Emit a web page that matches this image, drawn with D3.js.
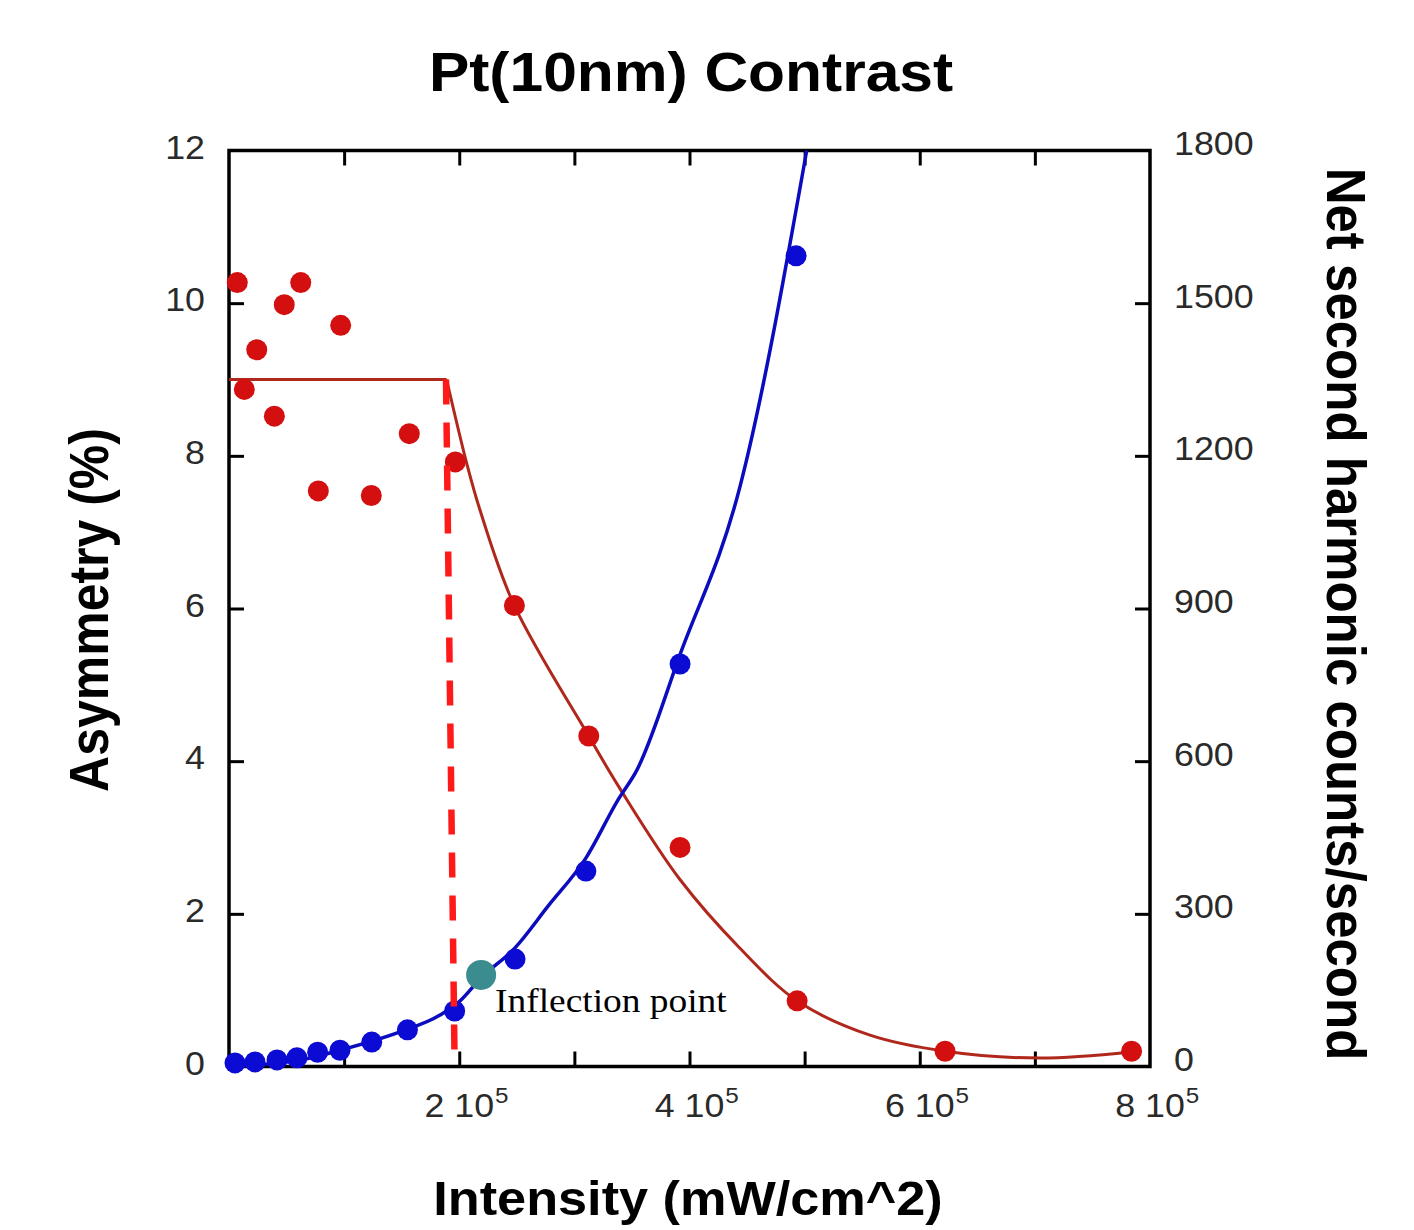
<!DOCTYPE html>
<html>
<head>
<meta charset="utf-8">
<script src="https://cdn.jsdelivr.net/npm/d3@7"></script>
<style>
  body { margin: 0; background: #fff; }
  text { font-family: "Liberation Sans", Arial, sans-serif; }
</style>
</head>
<body>
<div id="chart-wrapper"></div>
<script>

// Asymmetry measurements (%), left axis
const asymX = [7.2e3, 1.33e4, 2.41e4, 3.94e4, 4.8e4, 6.23e4, 7.76e4, 9.7e4, 1.236e5, 1.566e5, 1.966e5, 2.479e5, 3.125e5, 3.918e5, 4.935e5, 6.22e5, 7.84e5]
const asymY = [10.27, 8.87, 9.39, 8.52, 9.98, 10.27, 7.54, 9.71, 7.48, 8.29, 7.92, 6.04, 4.33, 2.87, 0.86, 0.2, 0.2]

// Asymmetry fit: flat part + decay part
const asymFlatX = [0, 1.89e5]
const asymFlatY = [9.0, 9.0]
const asymFitX = [1.89e5, 2.065e5, 2.18e5, 2.478e5, 3.124e5, 3.396e5, 3.917e5, 4.438e5, 4.934e5, 5.568e5, 6.22e5, 7.044e5, 7.835e5]
const asymFitY = [9.0, 7.9, 7.29, 6.04, 4.33, 3.64, 2.45, 1.55, 0.86, 0.41, 0.2, 0.11, 0.19]

// Second harmonic counts, right axis
const shgX = [5.2e3, 2.26e4, 4.17e4, 5.9e4, 7.7e4, 9.64e4, 1.24e5, 1.55e5, 1.96e5, 2.485e5, 3.10e5, 3.918e5, 4.926e5]
const shgY = [7, 9, 13, 17, 28, 32, 48, 72, 109, 211, 384, 791, 1593]

const shgFitX = [0, 6.17e4, 9.64e4, 1.485e5, 1.833e5, 1.998e5, 2.189e5, 2.484e5, 2.771e5, 3.101e5, 3.379e5, 3.544e5, 3.917e5, 4.438e5, 5.018e5]
const shgFitY = [0, 12.8, 32, 68, 101, 127, 174, 233, 315, 410, 524, 583, 809, 1139, 1800]

// annotation: threshold line (asymmetry units) and inflection point (counts)
const thresholdX = [1.885e5, 1.96e5]
const thresholdY = [9.0, 0]
const inflectionX = [2.19e5]
const inflectionY = [180]
const inflectionLabel = "Inflection point"

// ticks and labels
const xTicks = [1e5, 2e5, 3e5, 4e5, 5e5, 6e5, 7e5]
const xLabelValues = [2e5, 4e5, 6e5, 8e5]
const xLabelBase = ["2 10", "4 10", "6 10", "8 10"]
const xLabelExp = "5"
const leftTicks = [2, 4, 6, 8, 10]
const leftLabels = [0, 2, 4, 6, 8, 10, 12]
const rightTicks = [300, 600, 900, 1200, 1500]
const rightLabels = [0, 300, 600, 900, 1200, 1500, 1800]

const title = "Pt(10nm) Contrast"
const xTitle = "Intensity (mW/cm^2)"
const yLeftTitle = "Asymmetry (%)"
const yRightTitle = "Net second harmonic counts/second"

function drawChart() {

  const dimensions = {
    width: 1414,
    height: 1230,
    left: 229,
    right: 1150,
    top: 150.5,
    bottom: 1066.5,
  }
  const stretch = 1.1   // the original picture is a bit wider than tall
  const tickLen = 15

  const svg = d3.select("#chart-wrapper")
    .append("svg")
      .attr("width", dimensions.width)
      .attr("height", dimensions.height)

  // scales
  const x = d3.scaleLinear().domain([0, 8e5]).range([dimensions.left, dimensions.right])
  const yLeft = d3.scaleLinear().domain([0, 12]).range([dimensions.bottom, dimensions.top])
  const yRight = d3.scaleLinear().domain([0, 1800]).range([dimensions.bottom, dimensions.top])

  // helper for stretched text
  function addText(px, py, str, size, opts = {}) {
    const t = svg.append("text")
      .attr("transform", `translate(${px},${py}) scale(${stretch},1)` + (opts.rotate ? ` rotate(${opts.rotate})` : ""))
      .attr("font-size", size)
      .attr("font-weight", opts.weight || "normal")
      .attr("text-anchor", opts.anchor || "start")
      .attr("fill", opts.fill || "#000")
      .text(str)
    if (opts.family) t.style("font-family", opts.family)
    return t
  }

  // axes (ticks pointing inwards)
  const axisGroup = svg.append("g")
  axisGroup.append("g")
    .attr("transform", `translate(0,${dimensions.bottom})`)
    .call(d3.axisBottom(x).tickValues(xTicks).tickSize(-tickLen).tickFormat(""))
  axisGroup.append("g")
    .attr("transform", `translate(0,${dimensions.top})`)
    .call(d3.axisTop(x).tickValues(xTicks).tickSize(-tickLen).tickFormat(""))
  axisGroup.append("g")
    .attr("transform", `translate(${dimensions.left},0)`)
    .call(d3.axisLeft(yLeft).tickValues(leftTicks).tickSize(-tickLen).tickFormat(""))
  axisGroup.append("g")
    .attr("transform", `translate(${dimensions.right},0)`)
    .call(d3.axisRight(yRight).tickValues(rightTicks).tickSize(-tickLen).tickFormat(""))
  axisGroup.selectAll(".domain").remove()
  axisGroup.selectAll(".tick line").attr("stroke", "#000").attr("stroke-width", 3)

  // frame
  svg.append("rect")
    .attr("x", dimensions.left)
    .attr("y", dimensions.top)
    .attr("width", dimensions.right - dimensions.left)
    .attr("height", dimensions.bottom - dimensions.top)
    .attr("fill", "none")
    .attr("stroke", "#000")
    .attr("stroke-width", 3.5)

  // tick labels
  leftLabels.forEach(v => addText(205, yLeft(v) + 8, v, 32.5, { anchor: "end", fill: "#2a2a2a" }))
  rightLabels.forEach(v => addText(1174, yRight(v) + 4.5, v, 32.5, { fill: "#2a2a2a" }))
  xLabelValues.forEach((v, i) => {
    const base = addText(x(v), 1117, xLabelBase[i], 32.5, { anchor: "middle", fill: "#2a2a2a" })
    const half = base.node().getComputedTextLength() * stretch / 2
    addText(x(v) + half + 1, 1103, xLabelExp, 22, { fill: "#2a2a2a" })
  })

  // titles
  addText(691, 91, title, 55, { anchor: "middle", weight: "bold" })
  addText(688, 1215, xTitle, 47.5, { anchor: "middle", weight: "bold" })
  addText(108, 610, yLeftTitle, 50, { anchor: "middle", weight: "bold", rotate: -90 })
  addText(1327, 614, yRightTitle, 51, { anchor: "middle", weight: "bold", rotate: 90 })

  // lines
  const leftLine = d3.line().x(d => x(d[0])).y(d => yLeft(d[1]))
  const rightLine = d3.line().x(d => x(d[0])).y(d => yRight(d[1])).curve(d3.curveMonotoneX)

  svg.append("path")
    .attr("d", leftLine(d3.zip(asymFlatX, asymFlatY)))
    .attr("fill", "none").attr("stroke", "#b0281c").attr("stroke-width", 3)
  svg.append("path")
    .attr("d", leftLine.curve(d3.curveCatmullRom.alpha(0.5))(d3.zip(asymFitX, asymFitY)))
    .attr("fill", "none").attr("stroke", "#b0281c").attr("stroke-width", 3)
  svg.append("path")
    .attr("d", rightLine(d3.zip(shgFitX, shgFitY)))
    .attr("fill", "none").attr("stroke", "#0c0cbf").attr("stroke-width", 3.5)

  // points
  svg.append("g").selectAll("circle")
    .data(d3.zip(asymX, asymY))
    .join("circle")
      .attr("cx", d => x(d[0]))
      .attr("cy", d => yLeft(d[1]))
      .attr("r", 10.5)
      .attr("fill", "#d30f0f")
  svg.append("g").selectAll("circle")
    .data(d3.zip(shgX, shgY))
    .join("circle")
      .attr("cx", d => x(d[0]))
      .attr("cy", d => yRight(d[1]))
      .attr("r", 10.5)
      .attr("fill", "#0b0bd4")

  // threshold dashed line
  svg.append("line")
    .attr("x1", x(thresholdX[0])).attr("y1", yLeft(thresholdY[0]))
    .attr("x2", x(thresholdX[1])).attr("y2", yLeft(thresholdY[1]))
    .attr("stroke", "#ff1a1a")
    .attr("stroke-width", 6.5)
    .attr("stroke-dasharray", "25 18")

  // inflection point
  svg.append("circle")
    .attr("cx", x(inflectionX[0]))
    .attr("cy", yRight(inflectionY[0]))
    .attr("r", 15)
    .attr("fill", "#3b8c8e")
  addText(x(inflectionX[0]) + 14, yRight(inflectionY[0]) + 37, inflectionLabel, 34,
    { family: "'Liberation Serif', 'Times New Roman', serif" })
}

drawChart()
</script>
</body>
</html>
